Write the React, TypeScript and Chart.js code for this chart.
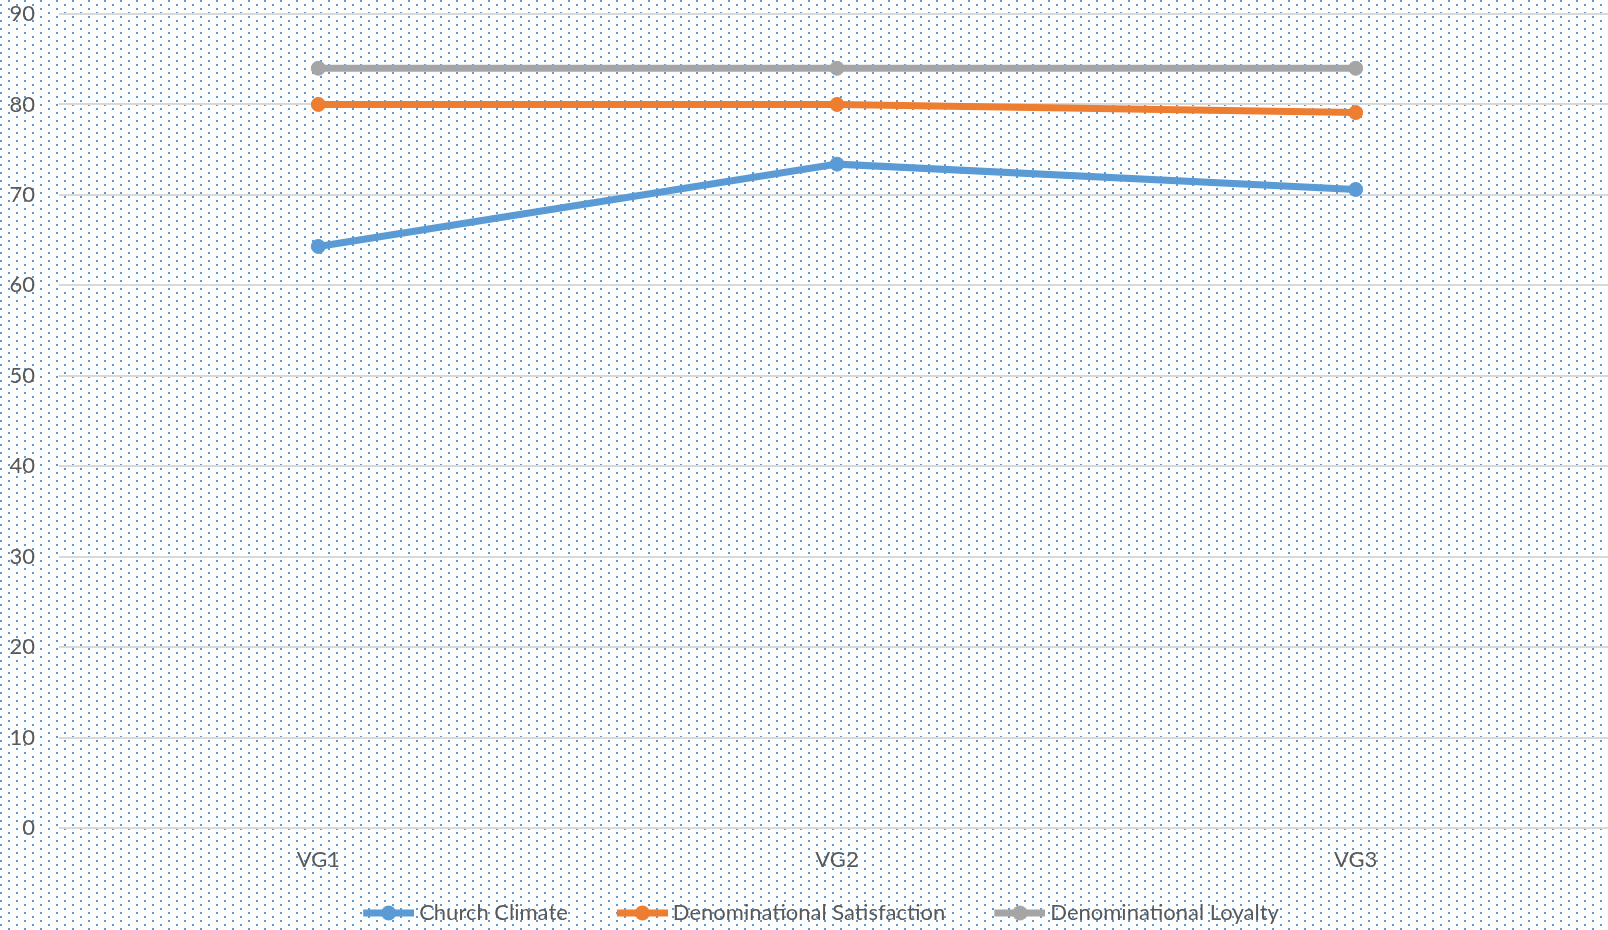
import React, { useEffect, useRef } from 'react';
import { Chart, registerables } from 'chart.js';

Chart.register(...registerables);

const categories = ['VG1', 'VG2', 'VG3'];
const churchClimate = [64.3, 73.4, 70.6];
const denominationalSatisfaction = [80, 80, 79.1];
const denominationalLoyalty = [84, 84, 84];
const seriesNames = ['Church Climate', 'Denominational Satisfaction', 'Denominational Loyalty'];
const yMin = 0;
const yMax = 90;
const yStep = 10;

const COLORS = ['#5B9BD5', '#ED7D31', '#A5A5A5'];
const FONT = 'Lato';
const FONT_SIZE = 22;
const TEXT = '#595959';
// the plot area runs a few pixels past the right edge of the visible frame
const CANVAS_W = 1615;
const VIEW_W = 1608;
const VIEW_H = 930;

const dotBackground = {
  id: 'dotBackground',
  beforeDraw(chart: any) {
    const { ctx, width, height } = chart;
    const tile = document.createElement('canvas');
    tile.width = 16;
    tile.height = 8;
    const t = tile.getContext('2d')!;
    t.fillStyle = '#ffffff';
    t.fillRect(0, 0, 16, 8);
    t.fillStyle = '#5B9BD5';
    t.fillRect(8, 0, 2, 2);
    t.fillRect(0, 4, 2, 2);
    const pat = ctx.createPattern(tile, 'repeat');
    ctx.save();
    ctx.fillStyle = pat;
    ctx.fillRect(0, 0, width, height);
    ctx.restore();
  },
};

// legend marker: line with a dot, drawn into an image centred on the legend box
function legendIcon(color: string) {
  const c = document.createElement('canvas');
  c.width = 84;
  c.height = 18;
  const g = c.getContext('2d')!;
  g.strokeStyle = color;
  g.lineWidth = 7;
  g.beginPath();
  g.moveTo(33, 9);
  g.lineTo(84, 9);
  g.stroke();
  g.fillStyle = color;
  g.beginPath();
  g.arc(58.5, 9, 7.5, 0, Math.PI * 2);
  g.fill();
  return c;
}

export default function App() {
  const ref = useRef<HTMLCanvasElement>(null);
  useEffect(() => {
    document.body.style.margin = '0';
    const icons = COLORS.map(legendIcon);
    const seriesData = [churchClimate, denominationalSatisfaction, denominationalLoyalty];
    const chart = new Chart(ref.current!, {
      type: 'line',
      data: {
        labels: categories,
        datasets: seriesData.map((d, i) => ({
          label: seriesNames[i],
          data: d,
          borderColor: COLORS[i],
          backgroundColor: COLORS[i],
          borderWidth: 7,
          pointRadius: 7,
          pointBorderWidth: 1,
          pointBackgroundColor: COLORS[i],
          pointBorderColor: COLORS[i],
          tension: 0,
          fill: false,
        })),
      },
      options: {
        responsive: false,
        animation: false,
        layout: { autoPadding: false, padding: { top: 14, right: 0, left: 0, bottom: -4 } },
        plugins: {
          tooltip: { enabled: false },
          legend: {
            position: 'bottom',
            labels: {
              usePointStyle: true,
              pointStyleWidth: 72,
              padding: 22,
              color: TEXT,
              font: { family: FONT, size: FONT_SIZE },
              generateLabels: (chart: any) => {
                const items = Chart.defaults.plugins.legend.labels.generateLabels(chart);
                return items.map((it: any, i: number) => ({ ...it, pointStyle: icons[i] }));
              },
            },
          },
        },
        scales: {
          x: {
            offset: true,
            grid: { display: false, drawTicks: false },
            border: { display: false },
            ticks: { color: TEXT, font: { family: FONT, size: FONT_SIZE }, padding: 19 },
            afterFit: (s: any) => {
              s.height = 52;
              s.paddingLeft = 0;
              s.paddingRight = 0;
            },
          },
          y: {
            min: yMin,
            max: yMax,
            border: { display: false },
            grid: { color: '#D9D9D9', lineWidth: 2, drawTicks: false },
            ticks: { stepSize: yStep, color: TEXT, font: { family: FONT, size: FONT_SIZE }, padding: 24 },
            afterFit: (s: any) => {
              s.width = 59;
              s.paddingTop = 0;
              s.paddingBottom = 0;
            },
          },
        },
      },
      plugins: [dotBackground],
    });
    return () => chart.destroy();
  }, []);
  return (
    <div style={{ position: 'absolute', left: 0, top: 0, width: VIEW_W, height: VIEW_H, overflow: 'hidden' }}>
      <canvas ref={ref} width={CANVAS_W} height={VIEW_H} style={{ display: 'block' }} />
    </div>
  );
}
